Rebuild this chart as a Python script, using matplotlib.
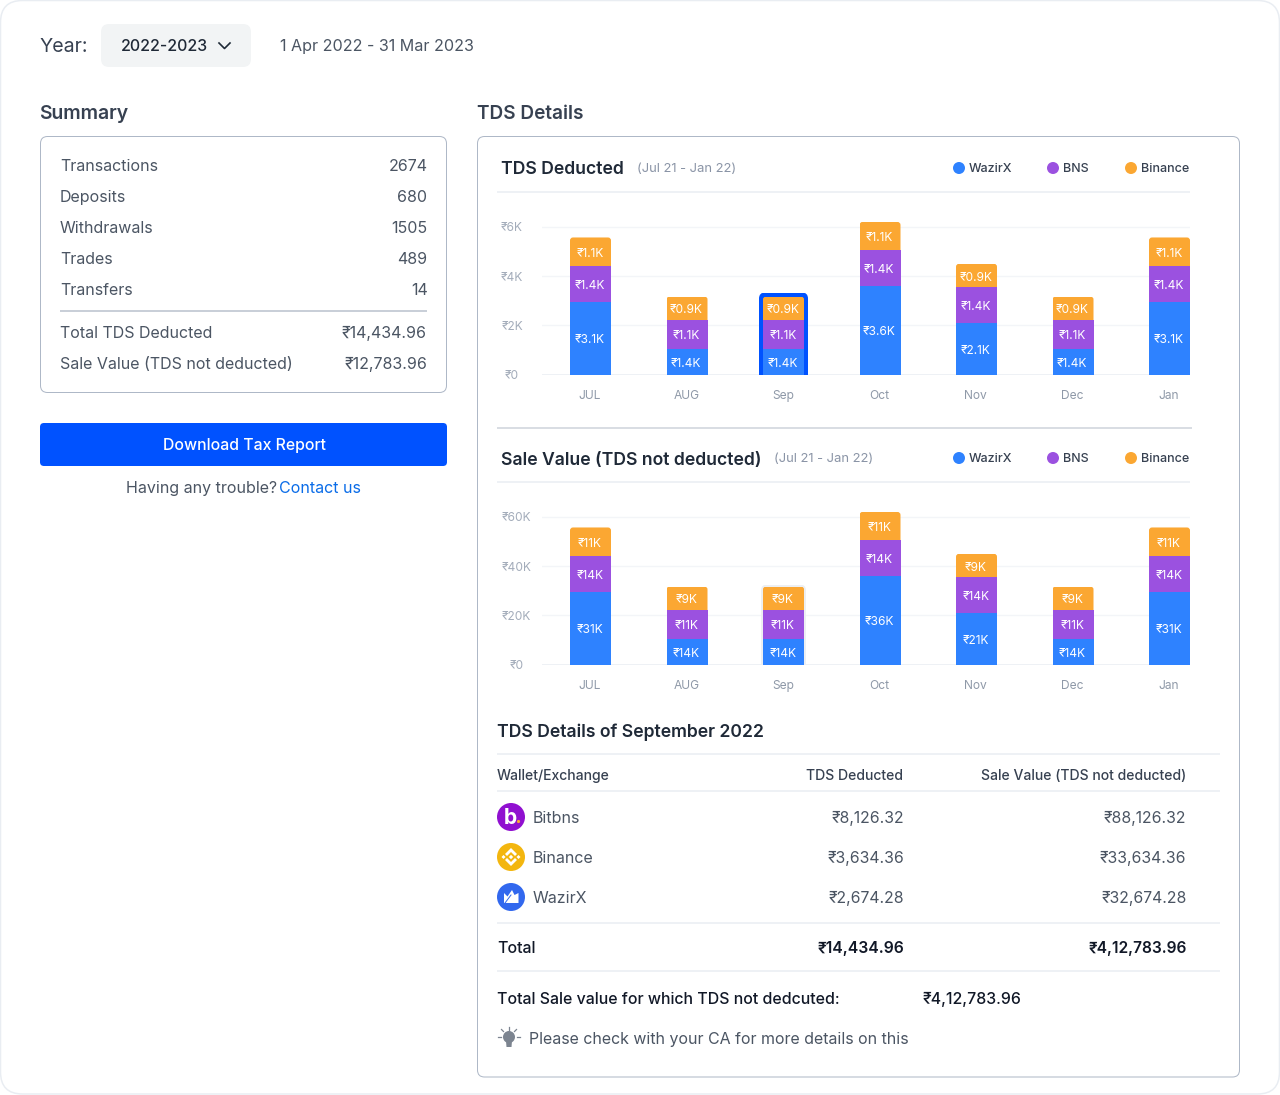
import matplotlib

matplotlib.use("Agg")
import matplotlib.pyplot as plt
from matplotlib.patches import Circle, FancyBboxPatch, Polygon
from matplotlib.transforms import IdentityTransform, ScaledTranslation

plt.rcParams["font.family"] = ["Inter", "DejaVu Sans"]

# ── Data ─────────────────────────────────────────────────────────────────
months = ["JUL", "AUG", "Sep", "Oct", "Nov", "Dec", "Jan"]

tds_wazirx = [2.95, 1.05, 1.05, 3.6, 2.1, 1.05, 2.95]
tds_bns = [1.45, 1.17, 1.17, 1.46, 1.45, 1.17, 1.45]
tds_binance = [1.17, 0.95, 0.95, 1.14, 0.95, 0.95, 1.17]
tds_wazirx_labels = ["₹3.1K", "₹1.4K", "₹1.4K", "₹3.6K", "₹2.1K", "₹1.4K", "₹3.1K"]
tds_bns_labels = ["₹1.4K", "₹1.1K", "₹1.1K", "₹1.4K", "₹1.4K", "₹1.1K", "₹1.4K"]
tds_binance_labels = ["₹1.1K", "₹0.9K", "₹0.9K", "₹1.1K", "₹0.9K", "₹0.9K", "₹1.1K"]
tds_ticks = [0, 2, 4, 6]
tds_tick_labels = ["₹0", "₹2K", "₹4K", "₹6K"]

sale_wazirx = [29.5, 10.5, 10.5, 36, 21, 10.5, 29.5]
sale_bns = [14.5, 11.7, 11.7, 14.6, 14.5, 11.7, 14.5]
sale_binance = [11.7, 9.5, 9.5, 11.4, 9.5, 9.5, 11.7]
sale_wazirx_labels = ["₹31K", "₹14K", "₹14K", "₹36K", "₹21K", "₹14K", "₹31K"]
sale_bns_labels = ["₹14K", "₹11K", "₹11K", "₹14K", "₹14K", "₹11K", "₹14K"]
sale_binance_labels = ["₹11K", "₹9K", "₹9K", "₹11K", "₹9K", "₹9K", "₹11K"]
sale_ticks = [0, 20, 40, 60]
sale_tick_labels = ["₹0", "₹20K", "₹40K", "₹60K"]

summary_rows = ["Transactions", "Deposits", "Withdrawals", "Trades", "Transfers"]
summary_values = ["2674", "680", "1505", "489", "14"]
summary_totals = ["Total TDS Deducted", "Sale Value (TDS not deducted)"]
summary_total_values = ["₹14,434.96", "₹12,783.96"]

wallets = ["Bitbns", "Binance", "WazirX"]
wallet_tds = ["₹8,126.32", "₹3,634.36", "₹2,674.28"]
wallet_sale = ["₹88,126.32", "₹33,634.36", "₹32,674.28"]

WAZIRX = "#2E82FF"
BNS = "#9B51E0"
BINANCE = "#FBA732"
DARK = "#1F2937"
BODY = "#4B5563"
TICK = "#A3ACBA"
LINE = "#EEF1F5"

W, H = 1280, 1095
PX_PER_UNIT = 24.6

fig = plt.figure(figsize=(W / 100, H / 100), dpi=100, facecolor="white")

# Page layer in pixel coordinates, y going down
page = fig.add_axes([0, 0, 1, 1])
page.set_xlim(0, W)
page.set_ylim(H, 0)
page.axis("off")


def txt(x, y, s, size=16, color=BODY, ha="left", weight="normal", **kw):
    # size is in CSS px, y is the baseline
    page.text(x, y, s, fontsize=size * 0.72, color=color, ha=ha, va="baseline",
              fontweight=weight, **kw)


def hline(y, x0, x1, color=LINE, lw=2):
    page.plot([x0, x1], [y, y], color=color, lw=lw * 0.72, solid_capstyle="butt")


def box(x0, y0, x1, y1, r, fc="none", ec="none", lw=1.0):
    page.add_patch(FancyBboxPatch((x0, y0), x1 - x0, y1 - y0,
                                  boxstyle=f"round,pad=0,rounding_size={r}",
                                  fc=fc, ec=ec, lw=lw * 0.72))


def round_top(bar, r=3):
    # clip the bar so only its upper corners come out rounded
    bb = bar.get_window_extent()
    clip = FancyBboxPatch((bb.x0, bb.y0 - 2 * r), bb.width, bb.height + 2 * r,
                          boxstyle=f"round,pad=0,rounding_size={r}",
                          transform=IdentityTransform())
    bar.set_clip_path(clip)


def stacked_chart(y_zero, unit, wazirx, bns, binance, labels, ticks, tick_labels,
                  highlight, ytick_pad):
    px_per_value = PX_PER_UNIT / unit
    ymax = 6.5 * unit
    ax = fig.add_axes([542 / W, 1 - y_zero / H, (1190 - 542) / W,
                       ymax * px_per_value / H])
    ax.patch.set_alpha(0)
    ax.set_xlim(-48.5 / 96.5, (1190 - 590.5) / 96.5)
    ax.set_ylim(0, ymax)
    for s in ax.spines.values():
        s.set_visible(False)

    x = list(range(len(months)))
    width = 41 / 96.5
    bottom2 = [a + b for a, b in zip(wazirx, bns)]
    totals = [a + b for a, b in zip(bottom2, binance)]

    ax.set_axisbelow(True)
    ax.set_yticks(ticks, tick_labels, fontsize=8.64, color=TICK, ha="center")
    ax.set_xticks(x, months, fontsize=8.64, color="#8F99A8")
    ax.tick_params(axis="both", length=0)
    ax.tick_params(axis="y", pad=ytick_pad)
    ax.tick_params(axis="x", pad=11)
    ax.grid(True, axis="y", color="#F3F5F8", lw=1.0)
    ax.axhline(0, color=LINE, lw=1.4, zorder=1)
    nudge = ScaledTranslation(-0.5 / 72, 0, fig.dpi_scale_trans)
    for lbl in ax.get_xticklabels():
        lbl.set_transform(lbl.get_transform() + nudge)

    # selected month
    i, color, grow = highlight
    halo = ax.bar(x[i], totals[i] + grow / px_per_value, width * (41 + 2 * grow) / 41,
                  color=color, zorder=2)
    round_top(halo[0], r=6)

    c1 = ax.bar(x, wazirx, width, color=WAZIRX, zorder=3)
    c2 = ax.bar(x, bns, width, bottom=wazirx, color=BNS, zorder=3)
    c3 = ax.bar(x, binance, width, bottom=bottom2, color=BINANCE, zorder=3)
    for b in c3:
        round_top(b)
    for cont, lab in zip((c1, c2, c3), labels):
        anns = ax.bar_label(cont, labels=lab, label_type="center", color="white",
                            fontsize=8.64, zorder=4)
        for a in anns:
            a.xyann = (-0.5, -1.5)
    return ax


# ── Frames ───────────────────────────────────────────────────────────────
box(0.5, 0.5, 1279.5, 1094, 22, fc="white", ec="#E9EDF2", lw=1.5)
box(40.5, 136.5, 446.5, 392.5, 7, ec="#AEB8C7", lw=1.0)
box(477.5, 136.5, 1239.5, 1077, 7, ec="#AEB8C7", lw=1.0)

# ── Year selector ────────────────────────────────────────────────────────
txt(39.5, 52, "Year:", size=19.5, color="#374151")
box(101, 24, 251, 67, 8, fc="#F2F4F5")
txt(121, 51, "2022-2023", size=16, color=DARK, weight="medium")
page.plot([219, 224.5, 230], [43, 48.5, 43], color=DARK, lw=1.2)
txt(280, 51, "1 Apr 2022 - 31 Mar 2023", size=16.1, color=BODY)

# ── Summary column ───────────────────────────────────────────────────────
txt(39.5, 119, "Summary", size=19.4, color="#374151", weight="semibold")
txt(477, 119, "TDS Details", size=19, color="#374151", weight="semibold")

for y, name, val in zip([171, 202, 233, 264, 295], summary_rows, summary_values):
    txt(60, y, name)
    txt(427.5, y, val, ha="right")
hline(311, 60, 427, color="#C9CFD8")
for y, name, val in zip([338, 369], summary_totals, summary_total_values):
    txt(60, y, name)
    txt(427, y, val, ha="right")

box(40, 423, 447, 466, 4, fc="#0052FF")
txt(244, 450, "Download Tax Report", size=15.8, color="white", ha="center", weight="medium")
txt(126, 493, "Having any trouble?")
txt(279, 493, "Contact us", color="#0A6CE8")

# ── Chart headers ────────────────────────────────────────────────────────
for title_y, y_off, title, sub_x in [(174.5, 0, "TDS Deducted", 637),
                                     (465, 290, "Sale Value (TDS not deducted)", 774)]:
    txt(501, title_y, title, size=17.6, color=DARK, weight="semibold")
    txt(sub_x, 172 + y_off, "(Jul 21 - Jan 22)", size=13, color="#8A94A6")
    for cx, name, color in [(959, "WazirX", WAZIRX), (1053, "BNS", BNS), (1131, "Binance", BINANCE)]:
        page.add_patch(Circle((cx, 168 + y_off), 6, fc=color, ec="none"))
        txt(cx + 10, 172 + y_off, name, size=12.5, color="#374151", weight="medium")
    hline(191.5 + y_off, 497, 1190)
hline(428, 497, 1192, color="#D9DDE3")

# ── Charts ───────────────────────────────────────────────────────────────
stacked_chart(374.5, 1, tds_wazirx, tds_bns, tds_binance,
              (tds_wazirx_labels, tds_bns_labels, tds_binance_labels),
              tds_ticks, tds_tick_labels, (2, "#0052FF", 4), 21.6)
stacked_chart(664.5, 10, sale_wazirx, sale_bns, sale_binance,
              (sale_wazirx_labels, sale_bns_labels, sale_binance_labels),
              sale_ticks, sale_tick_labels, (2, "#EDEFF2", 2), 18.4)

# ── Table ────────────────────────────────────────────────────────────────
txt(497, 737, "TDS Details of September 2022", size=17.6, color=DARK, weight="semibold")
hline(754, 497, 1220)
txt(497, 780, "Wallet/Exchange", size=14, color="#374151", weight="medium")
txt(903, 780, "TDS Deducted", size=14, color="#374151", ha="right", weight="medium")
txt(1186, 780, "Sale Value (TDS not deducted)", size=14, color="#374151", ha="right", weight="medium")
hline(791, 497, 1220)

for y, name, tds, sale in zip([817, 857, 897], wallets, wallet_tds, wallet_sale):
    txt(533, y + 6, name)
    txt(904.5, y + 5.5, tds, size=15.8, ha="right")
    txt(1186.5, y + 5.5, sale, size=15.8, ha="right")

# wallet icons
page.add_patch(Circle((511, 817), 14, fc="#9010D0", ec="none"))
txt(510, 824.5, "b", size=21, color="white", ha="center", weight="bold")
page.add_patch(Circle((518.5, 821.5), 1.6, fc="#FBA732", ec="none"))

page.add_patch(Circle((511, 857), 14, fc="#F3B60F", ec="none"))
page.add_patch(Polygon([(505, 854), (511, 848), (517, 854), (515, 856), (511, 852), (507, 856)],
                       fc="white", ec="none"))
page.add_patch(Polygon([(505, 860), (511, 866), (517, 860), (515, 858), (511, 862), (507, 858)],
                       fc="white", ec="none"))
for dx, r in [(-7.5, 2), (7.5, 2), (0, 2.2)]:
    page.add_patch(Polygon([(511 + dx - r, 857), (511 + dx, 857 - r),
                            (511 + dx + r, 857), (511 + dx, 857 + r)], fc="white", ec="none"))

page.add_patch(Circle((511, 897), 14, fc="#3268EE", ec="none"))
page.add_patch(Polygon([(504, 903), (504, 893), (507.5, 896.5), (512, 890), (514.5, 895),
                        (518.5, 893), (518.5, 903)], fc="white", ec="none"))
page.plot([505, 511], [903, 895], color="#3268EE", lw=0.7)

hline(923, 497, 1220)
txt(497, 953, "Total", color="#111827", weight="medium")
txt(904.5, 953, "₹14,434.96", size=15.7, color="#111827", ha="right", weight="semibold")
txt(1186.5, 953, "₹4,12,783.96", size=15.5, color="#111827", ha="right", weight="semibold")
hline(971, 497, 1220)

txt(497, 1004, "Total Sale value for which TDS not dedcuted:", size=15.9, color="#111827", weight="medium")
txt(923, 1004, "₹4,12,783.96", size=15.9, color="#111827", weight="medium")

# bulb icon
page.add_patch(Circle((509, 1037), 6, fc="#7C8490", ec="none"))
page.add_patch(Polygon([(506, 1041), (512, 1041), (511.5, 1047), (506.5, 1047)], fc="#7C8490", ec="none"))
for x0, y0, x1, y1 in [(498, 1037, 501, 1037), (517, 1037, 520, 1037), (509, 1027, 509, 1029.5),
                       (501.5, 1029.5, 503.5, 1031.5), (516.5, 1029.5, 514.5, 1031.5)]:
    page.plot([x0, x1], [y0, y1], color="#7C8490", lw=0.9)
txt(529, 1044, "Please check with your CA for more details on this", size=15.95)

fig.savefig("out.png", dpi=100)
